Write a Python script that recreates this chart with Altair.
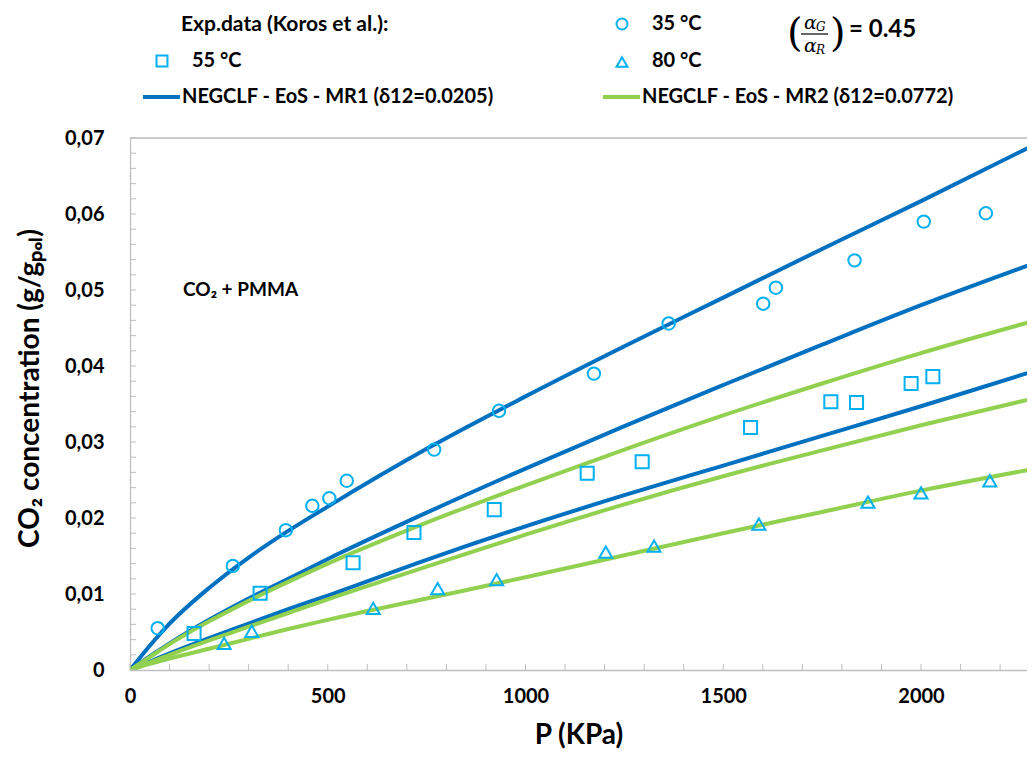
import altair as alt
import pandas as pd

# ---------------- data ----------------
# Experimental data (Koros et al.)
p35 = [70, 260, 394, 461, 504, 548, 769, 933, 1173, 1362, 1601, 1633, 1832, 2007, 2164]
c35 = [0.0055, 0.0137, 0.0184, 0.0216, 0.0226, 0.0249, 0.0290, 0.0341, 0.0390, 0.0456,
       0.0482, 0.0503, 0.0539, 0.0590, 0.0601]
p55 = [162, 329, 564, 718, 921, 1156, 1295, 1569, 1772, 1837, 1975, 2030]
c55 = [0.0048, 0.0101, 0.0141, 0.0181, 0.0211, 0.0259, 0.0274, 0.0319, 0.0353, 0.0352,
       0.0377, 0.0386]
p80 = [238, 308, 615, 778, 927, 1203, 1325, 1590, 1866, 2000, 2174]
c80 = [0.0035, 0.0051, 0.0081, 0.0107, 0.0119, 0.0155, 0.0163, 0.0192, 0.0221, 0.0233, 0.0249]

# Model curves
p_model = [0, 50, 100, 200, 300, 400, 500, 750, 1000, 1250, 1500, 1750, 2000, 2290]
mr1_35 = [0, 0.0032, 0.0061, 0.0108, 0.0148, 0.0183, 0.0215, 0.0291, 0.0360, 0.0426,
          0.0490, 0.0554, 0.0617, 0.0692]
mr1_55 = [0, 0.0018, 0.0035, 0.0066, 0.0094, 0.0120, 0.0146, 0.0207, 0.0265, 0.0321,
          0.0375, 0.0428, 0.0480, 0.0536]
mr1_80 = [0, 0.0011, 0.0022, 0.0042, 0.0061, 0.0080, 0.0098, 0.0145, 0.0189, 0.0230,
          0.0269, 0.0308, 0.0347, 0.0394]
mr2_35 = [0, 0.0017, 0.0034, 0.0064, 0.0091, 0.0116, 0.0140, 0.0194, 0.0243, 0.0290,
          0.0335, 0.0377, 0.0417, 0.0460]
mr2_55 = [0, 0.0010, 0.0020, 0.0039, 0.0057, 0.0075, 0.0093, 0.0136, 0.0178, 0.0218,
          0.0255, 0.0289, 0.0322, 0.0358]
mr2_80 = [0, 0.0008, 0.0015, 0.0028, 0.0041, 0.0054, 0.0066, 0.0094, 0.0122, 0.0151,
          0.0180, 0.0208, 0.0236, 0.0265]

x_labels = [0, 500, 1000, 1500, 2000]
y_labels = [0, 0.01, 0.02, 0.03, 0.04, 0.05, 0.06, 0.07]
x_minor = list(range(0, 2300, 100))
y_minor = [round(0.002 * i, 3) for i in range(36)]
x_domain = [0, 2268]
y_domain = [0, 0.07]

legend_header = "Exp.data (Koros et al.):"
lab35, lab55, lab80 = "35 °C", "55 °C", "80 °C"
lab_mr1 = "NEGCLF - EoS - MR1 (δ12=0.0205)"
lab_mr2 = "NEGCLF - EoS - MR2 (δ12=0.0772)"
system_label = "CO₂ + PMMA"
ratio_value = "=  0.45"

# ---------------- styles ----------------
BLUE = "#0070C0"
GREEN = "#92D050"
MARK = "#00B0F0"
AXC = "#BFBFBF"
FONT = "Lato"
W, H = 897, 532

xs = alt.Scale(domain=x_domain, nice=False, zero=True)
ys = alt.Scale(domain=y_domain, nice=False, zero=True)

x_axis = alt.Axis(values=x_labels, format="d", ticks=False, tickSize=0, grid=False,
                  domainColor=AXC, domainWidth=1.3, labelFont=FONT, labelFontSize=20,
                  labelFontWeight="bold", labelColor="black", labelPadding=16, labelFlush=False,
                  title="P (KPa)", titleFont=FONT, titleFontSize=28, titleFontWeight="bold",
                  titleColor="black", titlePadding=15)
y_axis = alt.Axis(values=y_labels, ticks=False, tickSize=0, grid=False, domainColor=AXC,
                  domainWidth=1.3, labelFont=FONT, labelFontSize=20, labelFontWeight="bold",
                  labelColor="black", labelPadding=26,
                  labelExpr="datum.value == 0 ? '0' : replace(format(datum.value, '.2f'), '.', ',')",
                  title="CO₂ concentration (g/gₚₒₗ)", titleFont=FONT, titleFontSize=28,
                  titleFontWeight="bold", titleColor="black", titleX=-100, titleY=250,
                  titleAngle=270, titleAlign="center", titleBaseline="middle")


def X(field):
    return alt.X(field, scale=xs, axis=x_axis)


def Y(field):
    return alt.Y(field, scale=ys, axis=y_axis)


def model_df(names_vals):
    rows = []
    for name, vals in names_vals:
        for p, c in zip(p_model, vals):
            rows.append({"P": p, "c": c, "series": name})
    return pd.DataFrame(rows)


blue_df = model_df([("MR1 35", mr1_35), ("MR1 55", mr1_55), ("MR1 80", mr1_80)])
green_df = model_df([("MR2 35", mr2_35), ("MR2 55", mr2_55), ("MR2 80", mr2_80)])

blue_lines = alt.Chart(blue_df).mark_line(color=BLUE, strokeWidth=4, interpolate="monotone",
                                          clip=True).encode(
    x=X("P:Q"), y=Y("c:Q"), detail="series:N")
green_lines = alt.Chart(green_df).mark_line(color=GREEN, strokeWidth=4, interpolate="monotone",
                                            clip=True).encode(
    x=X("P:Q"), y=Y("c:Q"), detail="series:N")


def pts(p, c, shape, size):
    return alt.Chart(pd.DataFrame({"P": p, "c": c})).mark_point(
        shape=shape, size=size, filled=False, color=MARK, strokeWidth=2, opacity=1
    ).encode(x=X("P:Q"), y=Y("c:Q"))


pts35 = pts(p35, c35, "circle", 155)
pts55 = pts(p55, c55, "square", 170)
pts80 = pts(p80, c80, "triangle-up", 170)

top_rule = alt.Chart(pd.DataFrame({"c": [y_domain[1]]})).mark_rule(
    color=AXC, strokeWidth=1.3).encode(y=Y("c:Q"))

yt = alt.Chart(pd.DataFrame({"c": y_minor})).mark_rule(color=AXC, strokeWidth=1).encode(
    y=Y("c:Q"), x=alt.value(0), x2=alt.value(6))
xt = alt.Chart(pd.DataFrame({"P": x_minor})).mark_rule(color=AXC, strokeWidth=1).encode(
    x=X("P:Q"), y=alt.value(H), y2=alt.value(H - 6))


def txt(s, x, y, size=20, align="left", weight="bold", style="normal", font=FONT):
    return alt.Chart(pd.DataFrame({"t": [s]})).mark_text(
        align=align, baseline="middle", fontSize=size, fontWeight=weight, fontStyle=style,
        font=font, color="black"
    ).encode(text="t:N", x=alt.value(x), y=alt.value(y))


def sym(shape, x, y):
    return alt.Chart(pd.DataFrame({"t": [shape]})).mark_point(
        shape=shape, size=120, filled=False, color=MARK, strokeWidth=2, opacity=1
    ).encode(x=alt.value(x), y=alt.value(y))


def seg(color, x1, x2, y):
    return alt.Chart(pd.DataFrame({"t": [color]})).mark_rule(color=color, strokeWidth=4).encode(
        x=alt.value(x1), x2=alt.value(x2), y=alt.value(y))


legend = [
    txt(legend_header, 51, -113, size=21),
    sym("square", 32, -77), txt(lab55, 62, -77),
    sym("circle", 492, -114), txt(lab35, 522, -114),
    sym("triangle-up", 492, -76), txt(lab80, 522, -77),
    seg(BLUE, 13, 50, -41), txt(lab_mr1, 52, -41),
    seg(GREEN, 473, 510, -41), txt(lab_mr2, 512, -41),
    # ratio annotation
    txt("(", 657, -104, size=40, weight="normal", font="DejaVu Serif"),
    txt(")", 700, -104, size=40, weight="normal", font="DejaVu Serif"),
    txt("α", 674, -115, size=19, weight="normal", style="italic", font="DejaVu Serif"),
    txt("G", 686, -111, size=12, weight="normal", style="italic", font="DejaVu Serif"),
    alt.Chart(pd.DataFrame({"t": ["bar"]})).mark_rule(color="black", strokeWidth=1.2).encode(
        x=alt.value(671), x2=alt.value(698), y=alt.value(-104)),
    txt("α", 674, -92, size=19, weight="normal", style="italic", font="DejaVu Serif"),
    txt("R", 686, -88, size=12, weight="normal", style="italic", font="DejaVu Serif"),
    txt(ratio_value, 719, -108, size=24),
    txt(system_label, 53, 152, size=19),
]

chart = alt.layer(
    blue_lines, green_lines, top_rule, yt, xt, pts35, pts55, pts80, *legend
).properties(
    width=W, height=H,
    autosize=alt.AutoSizeParams(type="none"),
    padding={"left": 122, "top": 130, "right": 0, "bottom": 83},
).configure_view(stroke=None).configure(background="white")

chart.save("out.html", embed_options={"renderer": "svg", "actions": False})
